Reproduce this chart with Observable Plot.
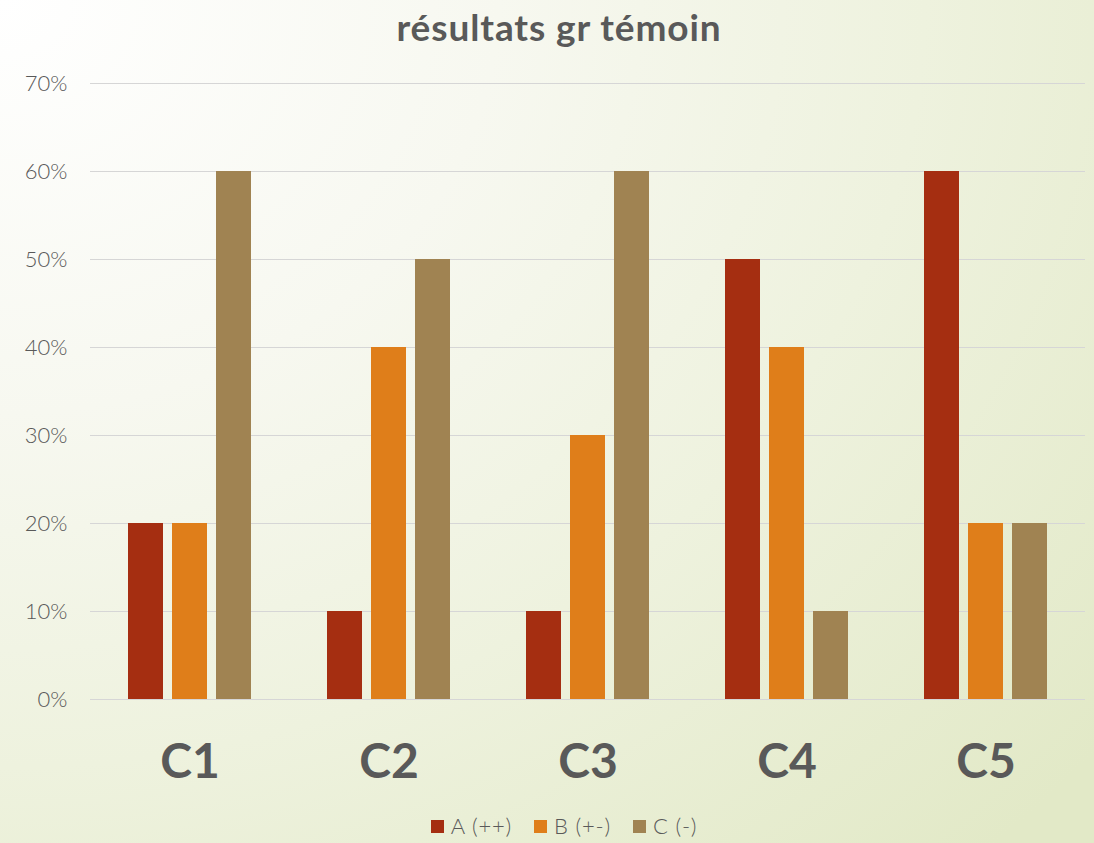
<!DOCTYPE html>
<html>
<head>
<meta charset="utf-8">
<script src="https://cdn.jsdelivr.net/npm/d3@7"></script>
<script src="https://cdn.jsdelivr.net/npm/@observablehq/plot@0.6"></script>
<style>
  html, body { margin: 0; padding: 0; }
  body {
    width: 1094px; height: 843px; overflow: hidden; position: relative;
    background: radial-gradient(ellipse 130% 140% at 0% 0%, #ffffff 0%, #f7f8f0 35%, #eef2de 65%, #e2e9c7 100%);
    font-family: Lato, "Open Sans", sans-serif;
  }
  #title {
    position: absolute; left: 0; width: 1118px; top: 4px; text-align: center;
    font-size: 37px; font-weight: bold; color: #595959; letter-spacing: 0.9px;
  }
  #chart { position: absolute; left: 0; top: 0; }
  #legend {
    position: absolute; left: 0; width: 1128px; top: 812px; text-align: center;
    font-size: 22px; font-weight: 300; color: #595959; letter-spacing: 0.8px;
  }
  #legend span.item { margin: 0 11px; white-space: nowrap; }
  #legend span.sw { display: inline-block; width: 13px; height: 13px; margin-right: 7px; vertical-align: 1px; }
</style>
</head>
<body>
<div id="title">résultats gr témoin</div>
<div id="chart"></div>
<div id="legend"></div>
<script>
const categories = ["C1", "C2", "C3", "C4", "C5"];
const series = ["A (++)", "B (+-)", "C (-)"];
const valuesA = [20, 10, 10, 50, 60];
const valuesB = [20, 40, 30, 40, 20];
const valuesC = [60, 50, 60, 10, 20];
const colors = ["#A52E11", "#DF7E1A", "#A08352"];
const yTicks = [0, 10, 20, 30, 40, 50, 60, 70];

const seriesValues = [valuesA, valuesB, valuesC];
const data = [];
categories.forEach((c, i) => {
  series.forEach((s, j) => data.push({category: c, series: s, value: seriesValues[j][i]}));
});

const chart = Plot.plot({
  width: 1094,
  height: 843,
  marginTop: 83,
  marginBottom: 144,
  marginLeft: 90,
  marginRight: 9,
  style: {background: "transparent", fontFamily: "Lato, 'Open Sans', sans-serif"},
  fx: {domain: categories, paddingInner: 0, paddingOuter: 0},
  x: {domain: series, axis: null, paddingInner: 0.21, paddingOuter: 0.85},
  y: {domain: [0, 70], axis: null},
  color: {domain: series, range: colors},
  marks: [
    Plot.ruleY(yTicks, {stroke: "#d6d6d6", strokeWidth: 1}),
    Plot.axisY(yTicks, {
      tickSize: 0, tickPadding: 23, tickFormat: d => d + "%",
      fontSize: 22, fontWeight: 300, color: "#595959", label: null
    }),
    Plot.barY(data, {fx: "category", x: "series", y: "value", fill: "series"}),
    Plot.axisFx({
      anchor: "bottom", tickSize: 0, tickPadding: 44, fontSize: 48,
      fontWeight: "bold", color: "#595959", label: null
    })
  ]
});
document.getElementById("chart").appendChild(chart);

const legend = document.getElementById("legend");
series.forEach((s, j) => {
  const item = document.createElement("span");
  item.className = "item";
  const sw = document.createElement("span");
  sw.className = "sw";
  sw.style.background = colors[j];
  item.appendChild(sw);
  item.appendChild(document.createTextNode(s));
  legend.appendChild(item);
});
</script>
</body>
</html>
